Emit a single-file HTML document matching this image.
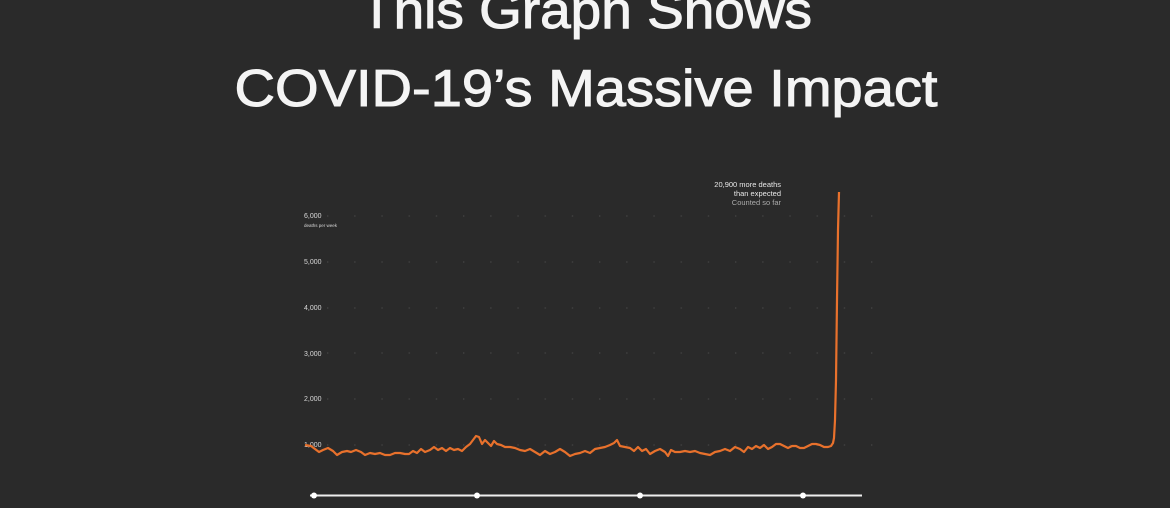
<!DOCTYPE html>
<html><head><meta charset="utf-8"><style>
html,body{margin:0;padding:0;background:#2a2a2a;}
svg{display:block}
</style></head><body>
<svg width="1170" height="508" viewBox="0 0 1170 508" xmlns="http://www.w3.org/2000/svg">
<rect width="1170" height="508" fill="#2a2a2a"/>
<defs><pattern id="dots" x="327" y="0" width="27.2" height="508" patternUnits="userSpaceOnUse">
<circle cx="0.5" cy="216" r="1" fill="#3c3c3c"/><circle cx="0.5" cy="262" r="1" fill="#3c3c3c"/><circle cx="0.5" cy="308" r="1" fill="#3c3c3c"/><circle cx="0.5" cy="353" r="1" fill="#3c3c3c"/><circle cx="0.5" cy="399" r="1" fill="#3c3c3c"/><circle cx="0.5" cy="445" r="1" fill="#3c3c3c"/>
</pattern></defs>
<rect x="326" y="210" width="550" height="240" fill="url(#dots)"/>
<g font-family="Liberation Sans, sans-serif" fill="#f4f4f4" stroke="#f4f4f4" stroke-width="1" text-anchor="middle">
<text x="586" y="28" font-size="52" textLength="452" lengthAdjust="spacingAndGlyphs">This Graph Shows</text>
<text x="586" y="106" font-size="52" textLength="703" lengthAdjust="spacingAndGlyphs">COVID-19’s Massive Impact</text>
</g>
<g font-family="Liberation Sans, sans-serif" fill="#d8d8d8" font-size="7">
<text x="304" y="218">6,000</text>
<text x="304" y="227" font-size="4.5">deaths per week</text>
<text x="304" y="264">5,000</text>
<text x="304" y="310">4,000</text>
<text x="304" y="356">3,000</text>
<text x="304" y="401">2,000</text>
<text x="304" y="447">1,000</text>
</g>
<g font-family="Liberation Sans, sans-serif" font-size="7.5" text-anchor="end">
<text x="781" y="187" fill="#e8e8e8">20,900 more deaths</text>
<text x="781" y="196" fill="#e8e8e8">than expected</text>
<text x="781" y="205" fill="#aaa">Counted so far</text>
</g>
<path fill="none" stroke="#e8712c" stroke-width="2.2" stroke-linejoin="round" d="M305,445 L311,446 L315,449 L319,452 L323,450 L328,448 L333,451 L337,455 L342,452 L347,451 L351,452 L356,450 L361,452 L365,455 L370,453 L375,454 L380,453 L385,455 L390,455 L395,453 L400,453 L405,454 L409,454 L413,451 L417,453 L421,449 L425,452 L430,450 L434,447 L438,450 L442,448 L446,451 L450,448 L454,450 L458,449 L462,451 L466,447 L470,444 L473,440 L476,436 L479,437 L482,444 L485,440 L488,443 L491,446 L494,441 L497,444 L501,445 L505,447 L510,447 L515,448 L520,450 L525,451 L530,449 L535,452 L540,455 L545,451 L550,454 L555,452 L560,449 L565,452 L570,456 L575,454 L580,453 L585,451 L590,453 L595,449 L600,448 L605,447 L610,445 L614,443 L617,440 L620,446 L625,447 L630,448 L634,451 L638,447 L642,451 L646,449 L650,454 L655,451 L660,449 L665,452 L668,456 L671,450 L675,452 L680,452 L685,451 L690,452 L695,451 L700,453 L705,454 L710,455 L715,452 L720,451 L725,449 L730,451 L735,447 L740,449 L744,452 L748,447 L752,449 L756,446 L760,448 L764,445 L768,449 L772,447 L776,444 L780,444 L784,446 L788,448 L792,446 L796,446 L800,448 L804,448 L808,446 L812,444 L816,444 L820,445 L824,447 L828,447 L831,446 L833,443 L834,438 L835,420 L836,380 L837,300 L838,230 L839,192"/>
<line x1="310" y1="495.5" x2="862" y2="495.5" stroke="#eee" stroke-width="2"/>
<g fill="#fff"><circle cx="314" cy="495.5" r="3"/><circle cx="477" cy="495.5" r="3"/><circle cx="640" cy="495.5" r="3"/><circle cx="803" cy="495.5" r="3"/></g>
</svg>
</body></html>
